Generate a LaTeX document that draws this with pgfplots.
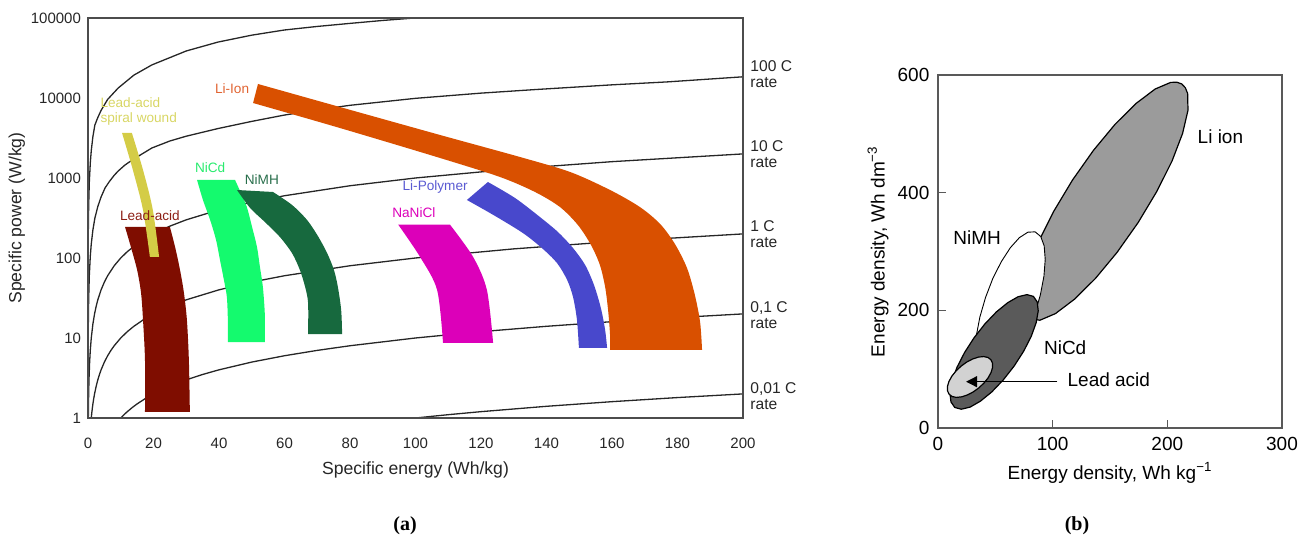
\documentclass[border=0pt]{standalone}
\usepackage{fontspec}
\setmainfont{Liberation Sans}
\newfontfamily\capfont{Liberation Serif}
\usepackage{pgfplots}
\pgfplotsset{compat=1.18}
\usepgfplotslibrary{fillbetween}
\usetikzlibrary{arrows.meta}
\definecolor{cLead}{RGB}{127,13,0}
\definecolor{cSpiral}{RGB}{212,204,70}
\definecolor{cNiCd}{RGB}{20,250,110}
\definecolor{cNiMH}{RGB}{23,105,62}
\definecolor{cNaNiCl}{RGB}{220,0,185}
\definecolor{cLiPoly}{RGB}{72,72,204}
\definecolor{cLiIon}{RGB}{217,80,0}
\definecolor{tSpiral}{RGB}{216,214,100}
\definecolor{tLiIon}{RGB}{225,100,50}
\definecolor{tNiCd}{RGB}{40,235,110}
\definecolor{tNiMH}{RGB}{40,110,75}
\definecolor{tLead}{RGB}{140,30,20}
\definecolor{tLiPoly}{RGB}{90,90,210}
\definecolor{gLi}{RGB}{155,155,155}
\definecolor{gNiCd}{RGB}{90,90,90}
\definecolor{gLead}{RGB}{210,210,210}
\begin{document}
\begin{tikzpicture}
\path (0pt,0pt) rectangle (655pt,270pt);
% ---------------- panel (a)
\begin{axis}[
  set layers,
  at={(44pt,61pt)}, anchor=south west, scale only axis,
  width=327.5pt, height=200pt,
  xmin=0, xmax=200, ymin=1, ymax=100000, ymode=log,
  xtick={0,20,40,60,80,100,120,140,160,180,200},
  xticklabels={0,20,40,60,80,100,120,140,160,180,200},
  ytick={1,10,100,1000,10000,100000},
  yticklabels={1,10,100,1000,10000,100000},
  major tick length=0pt, minor tick length=0pt, yminorticks=false,
  axis line style={draw=black!70, line width=0.8pt},
  tick label style={font=\fontsize{7.5}{9}\selectfont, text=black!85},
  xticklabel style={yshift=-6.5pt},
  xlabel={Specific energy (Wh/kg)}, ylabel={Specific power (W/kg)},
  label style={font=\fontsize{8.8}{10}\selectfont, text=black!85},
  xlabel style={at={(axis description cs:0.5,-0.13)}, anchor=center},
  ylabel style={at={(axis description cs:-0.1085,0.5)}, anchor=center},
  clip=false, axis on top,
]
% C-rate lines (behind the regions)
\addplot[on layer=axis background, black!85, line width=0.65pt] coordinates {
(0.00045,1) (0.001,2.2) (0.01,22) (0.1,220) (0.2,440) (0.4,880) (0.7,1540) (1,2200) (1.5,3300) (2.1,4600) (3,5700) (4,7000) (6,9600) (9.2,13300) (14,19300) (19.5,25900) (30,38700) (39.7,50000) (50,61000) (60,70800) (70,78400) (80,85600) (90,93150) (99.8,100000)};
\addplot[on layer=axis background, black!85, line width=0.65pt] coordinates {
(0.0067,1) (0.01,1.5) (0.1,15) (0.2,30) (0.4,60) (0.7,105) (1,150) (1.5,225) (2.1,315) (3,440) (4,580) (5.2,750) (6.5,900) (8,1080) (9.2,1220) (11.3,1454) (14,1730) (19.5,2371) (25,2900) (30,3330) (39.7,4150) (50,5100) (60,6120) (70,7100) (80,8100) (100,9900) (120,11500) (136,12700) (160,14600) (177,15900) (200,18400)};
\addplot[on layer=axis background, black!85, line width=0.65pt] coordinates {
(0.1,1) (0.15,1.5) (0.2,2) (0.3,3) (0.5,5) (0.7,7) (1,10) (1.5,15) (2,20) (2.5,25) (3,30) (4,40) (5,50) (6,60) (8,80) (10,100) (12,120) (15,150) (20,200) (25,250) (30,300) (40,400) (50,500) (60,600) (80,800) (100,1000) (130,1300) (160,1600) (200,2000)};
\addplot[on layer=axis background, black!85, line width=0.65pt] coordinates {
(1,1) (1.1,1.1) (1.2,1.2) (1.35,1.35) (1.5,1.5) (1.75,1.75) (2,2) (2.5,2.5) (3,3) (3.5,3.5) (4,4) (5,5) (6,6) (7,7) (8,8) (10,10) (12,12) (14,14) (17,17) (20,20) (25,25) (30,30) (40,40) (50,50) (60,60) (80,80) (100,100) (130,130) (160,160) (200,200)};
\addplot[on layer=axis background, black!85, line width=0.65pt] coordinates {
(10,1) (11,1.1) (12,1.2) (13.5,1.35) (15,1.5) (17.5,1.75) (20,2) (25,2.5) (30,3) (35,3.5) (40,4) (50,5) (60,6) (70,7) (80,8) (100,10) (120,12) (140,14) (160,16) (180,18) (200,20)};
\addplot[on layer=axis background, black!85, line width=0.65pt] coordinates {
(100,1) (110,1.1) (120,1.2) (140,1.4) (160,1.6) (180,1.8) (200,2)};
% technology regions: two smooth edges each, filled between
\addplot[draw=none, smooth, name path=LAl] coordinates {(11.3,245) (13.1,137) (15.0,70.8) (16.2,36.5) (16.8,16.8) (17.4,5.3) (17.4,1.19)};
\addplot[draw=none, smooth, name path=LAr] coordinates {(25.0,245) (26.6,137) (28.1,70.8) (29.3,36.5) (30.2,16.8) (30.8,5.3) (31.1,1.19)};
\addplot[fill=cLead, draw=none] fill between[of=LAl and LAr];
\addplot[draw=none, smooth, name path=SPl] coordinates {(10.4,3652) (13.7,1259) (16.8,398) (18.9,103)};
\addplot[draw=none, smooth, name path=SPr] coordinates {(13.4,3652) (16.8,1259) (19.8,398) (21.7,103)};
\addplot[fill=cSpiral, draw=none] fill between[of=SPl and SPr];
\addplot[draw=none, smooth, name path=NCl] coordinates {(33.3,944) (35.1,531) (37.3,298) (39.1,168) (40.3,94.4) (41.5,53.1) (42.4,32.5) (42.7,16.8) (42.7,8.9)};
\addplot[draw=none, smooth, name path=NCr] coordinates {(44.9,944) (46.7,649) (48.5,434) (50.1,244) (51.6,137) (52.5,77.2) (53.4,43.4) (54.0,19.4) (54.0,8.9)};
\addplot[fill=cNiCd, draw=none] fill between[of=NCl and NCr];
\addplot[draw=none, smooth, name path=NMl] coordinates {(45.5,708) (49.5,422) (54.0,282) (58.6,183) (62.3,115) (64.7,70.8) (66.3,43.4) (67.2,27.4) (67.2,11.2)};
\addplot[draw=none, smooth, name path=NMr] coordinates {(56.5,668) (62.3,460) (66.9,298) (70.2,188) (73.0,115.5) (75.1,70.8) (76.3,43.4) (77.3,22.4) (77.6,11.2)};
\addplot[fill=cNiMH, draw=none] fill between[of=NMl and NMr];
\addplot[draw=none, smooth, name path=NAl] coordinates {(94.7,262) (101.4,103) (106.6,39.8) (108.4,8.66)};
\addplot[draw=none, smooth, name path=NAr] coordinates {(110.5,262) (117.6,103) (121.8,39.8) (123.7,8.66)};
\addplot[fill=cNaNiCl, draw=none] fill between[of=NAl and NAr];
\addplot[draw=none, smooth, name path=LPl] coordinates {(115.7,531) (124.3,335) (132.8,205) (138.6,133) (143.2,86.6) (146.3,53.1) (148.1,32.5) (149.3,16.8) (149.9,7.5)};
\addplot[draw=none, smooth, name path=LPr] coordinates {(122.1,891) (130.4,562) (138.0,325) (143.5,211) (148.1,133) (151.8,81.8) (154.5,46) (156.6,23.7) (157.9,12.6) (158.5,7.5)};
\addplot[fill=cLiPoly, draw=none] fill between[of=LPl and LPr];
\addplot[draw=none, smooth, name path=LIl] coordinates {(50.4,8660) (76.9,4217) (107.5,1778) (125.8,1029) (136.5,668) (144.1,434) (149.6,258) (153.6,145) (156.3,81.8) (157.9,43.4) (158.8,22.4) (159.4,10.9) (159.4,7.08)};
\addplot[draw=none, smooth, name path=LIu] coordinates {(51.9,14962) (76.9,7718) (107.5,3447) (131.9,1830) (147.2,1189) (159.4,708) (168.5,434) (174.7,266) (179.2,150) (182.9,75) (185.3,34.5) (186.9,15.8) (187.5,7.08)};
\addplot[fill=cLiIon, draw=none] fill between[of=LIl and LIu];
% labels
\begin{scope}[every node/.style={font=\fontsize{6.8}{7.6}\selectfont, inner sep=0pt}]
\node[text=tLiIon] at (axis cs:44.0,12956) {Li-Ion};
\node[text=tSpiral, anchor=west, align=left] at (axis cs:3.7,6776) {Lead-acid\\spiral wound};
\node[text=tNiCd] at (axis cs:37.3,1334) {NiCd};
\node[text=tNiMH] at (axis cs:53.1,944) {NiMH};
\node[text=tLead] at (axis cs:18.9,335) {Lead-acid};
\node[text=tLiPoly] at (axis cs:106.0,772) {Li-Polymer};
\node[text=cNaNiCl] at (axis cs:99.5,365) {NaNiCl};
\end{scope}
\begin{scope}[every node/.style={font=\fontsize{7.8}{8.2}\selectfont, inner sep=0pt, anchor=west, align=left, xshift=3.5pt, text=black!85}]
\node at (axis cs:200,20000) {100 C\\rate};
\node at (axis cs:200,2000) {10 C\\rate};
\node at (axis cs:200,200) {1 C\\rate};
\node at (axis cs:200,19.4) {0,1 C\\rate};
\node at (axis cs:200,1.88) {0,01 C\\rate};
\end{scope}
\end{axis}
% ---------------- panel (b)
\begin{axis}[
  at={(469pt,56pt)}, anchor=south west, scale only axis,
  width=172pt, height=176.5pt,
  xmin=0, xmax=300, ymin=0, ymax=600,
  xtick={0,100,200,300}, xticklabels={0,100,200,300},
  ytick={0,200,400,600}, yticklabels={0,200,400,600},
  tick align=inside, xtick pos=bottom, ytick pos=left, major tick length=4pt,
  axis line style={draw=black!65, line width=0.7pt},
  tick style={draw=black!65, line width=0.7pt},
  tick label style={font=\fontsize{9.5}{11}\selectfont},
  xticklabel style={yshift=-1pt}, yticklabel style={xshift=-0.8pt},
  xlabel={Energy density, Wh kg\textsuperscript{−1}},
  ylabel={Energy density, Wh dm\textsuperscript{−3}},
  label style={font=\fontsize{9.5}{11}\selectfont},
  xlabel style={at={(axis description cs:0.5,-0.1275)}, anchor=center},
  ylabel style={at={(axis description cs:-0.1744,0.5)}, anchor=center},
  clip=false,
]
\addplot[fill=gLi, draw=black, line width=0.6pt, line join=round] coordinates {
(212.6,584.8) (215.7,578.3) (217.7,568.6) (218.0,540.0) (213.3,500.7) (204.1,453.8) (190.8,402.0) (174.5,349.1) (156.2,298.6) (137.3,254.2) (118.9,218.7) (102.4,194.4) (88.9,183.2) (79.2,185.8) (74.1,202.0) (73.8,230.6) (78.5,269.9) (87.7,316.8) (101.0,368.6) (117.3,421.5) (135.6,472.0) (154.5,516.4) (172.9,551.9) (189.4,576.2) (202.9,587.4) (208.3,587.7)} -- cycle;
\addplot[fill=white, draw=black, line width=0.45pt, line join=round] coordinates {
(84.7,333.4) (89.6,325.4) (92.6,309.4) (93.5,286.5) (92.4,258.3) (89.3,226.5) (84.4,193.4) (78.1,161.3) (70.6,132.3) (62.7,108.5) (54.8,91.4) (47.4,82.2) (41.1,81.6) (36.2,89.6) (33.2,105.6) (32.3,128.5) (33.4,156.7) (36.5,188.5) (41.4,221.6) (47.7,253.7) (55.2,282.7) (63.1,306.5) (71.0,323.6) (78.4,332.8)} -- cycle;
\addplot[fill=gNiCd, draw=black, line width=0.6pt, line join=round] coordinates {
(83.2,223.7) (86.5,214.3) (87.4,199.1) (85.6,179.0) (81.3,155.7) (74.7,130.5) (66.4,105.3) (56.9,81.7) (46.9,61.3) (37.0,45.6) (28.0,35.5) (20.3,31.9) (14.6,34.9) (11.3,44.3) (10.4,59.5) (12.2,79.6) (16.5,102.9) (23.1,128.1) (31.4,153.3) (40.9,176.9) (50.9,197.3) (60.8,213.0) (69.8,223.1) (77.5,226.7)} -- cycle;
\addplot[fill=gLead, draw=black, line width=0.6pt, line join=round] coordinates {
(46.1,116.1) (47.5,110.3) (47.6,103.0) (46.3,94.5) (43.8,85.5) (40.1,76.5) (35.7,68.3) (30.7,61.3) (25.6,56.1) (20.5,52.9) (16.0,52.0) (12.3,53.5) (9.7,57.3) (8.3,63.1) (8.2,70.4) (9.5,78.9) (12.0,87.9) (15.7,96.9) (20.1,105.1) (25.1,112.1) (30.2,117.3) (35.3,120.5) (39.8,121.4) (43.5,119.9)} -- cycle;
\addplot[black, line width=0.6pt, -{Triangle[length=5.5pt,width=5.5pt]}] coordinates {(104,78.7) (24.5,78.7)};
\begin{scope}[every node/.style={font=\fontsize{9.5}{11}\selectfont, inner sep=0pt}]
\node at (axis cs:246.3,494.9) {Li ion};
\node at (axis cs:34.1,323) {NiMH};
\node at (axis cs:110.9,136) {NiCd};
\node[anchor=west] at (axis cs:112.7,81.6) {Lead acid};
\end{scope}
\end{axis}
\node[font=\capfont\bfseries\fontsize{10}{12}\selectfont] at (202.5pt,7pt) {(a)};
\node[font=\capfont\bfseries\fontsize{10}{12}\selectfont] at (538.5pt,7pt) {(b)};
\end{tikzpicture}
\end{document}
